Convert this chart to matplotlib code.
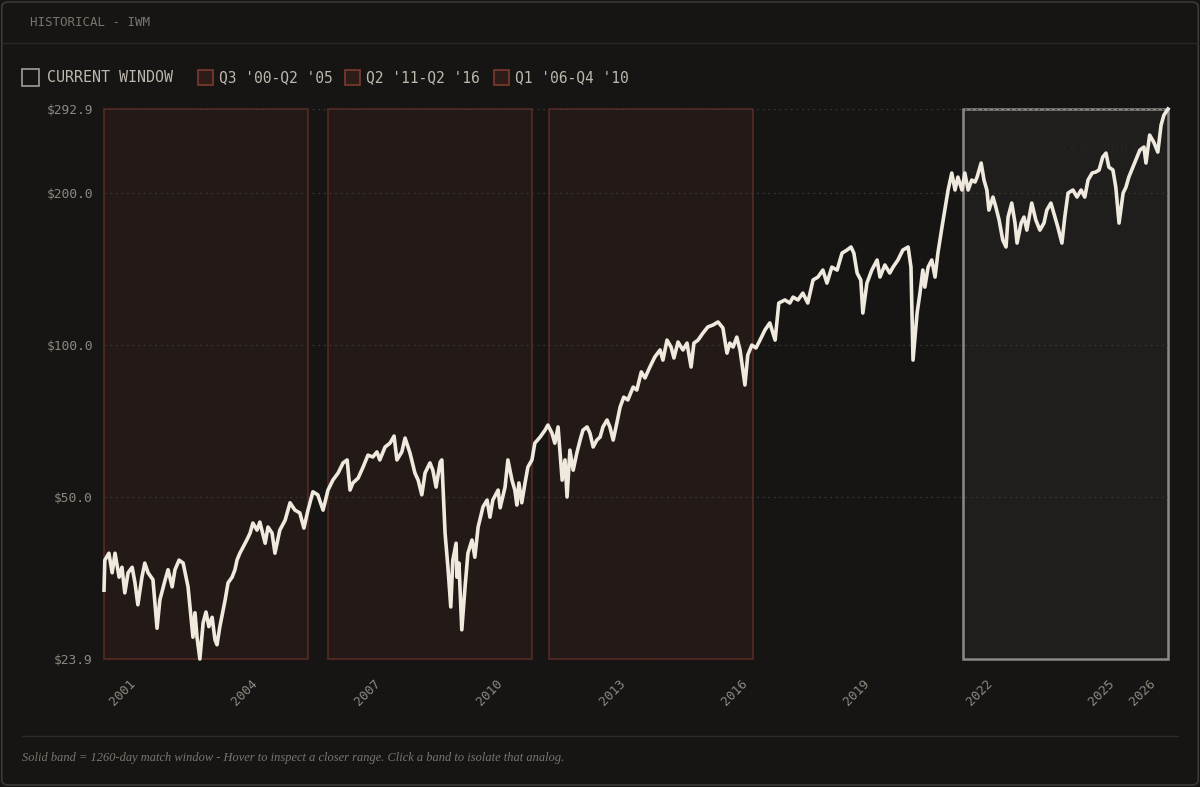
import matplotlib
matplotlib.use("Agg")
import matplotlib.pyplot as plt
from matplotlib.patches import Rectangle, FancyBboxPatch
from matplotlib.lines import Line2D
from matplotlib.ticker import NullLocator

# ---- data (decimal year, price) ----
dates = [
    2000.39, 2000.41, 2000.51, 2000.59, 2000.66, 2000.76, 2000.83, 2000.90, 2000.98, 2001.08,
    2001.15, 2001.22, 2001.32, 2001.39, 2001.47, 2001.59, 2001.69, 2001.76, 2001.89, 2001.96,
    2002.06, 2002.13, 2002.23, 2002.33, 2002.45, 2002.57, 2002.62, 2002.67, 2002.74, 2002.82,
    2002.89, 2002.96, 2003.04, 2003.11, 2003.16, 2003.23, 2003.36, 2003.43, 2003.53, 2003.60,
    2003.65, 2003.72, 2003.80, 2003.89, 2003.97, 2004.04, 2004.14, 2004.21, 2004.34, 2004.41,
    2004.51, 2004.58, 2004.70, 2004.83, 2004.95, 2005.07, 2005.19, 2005.29, 2005.39, 2005.51,
    2005.63, 2005.76, 2005.88, 2006.00, 2006.13, 2006.25, 2006.35, 2006.42, 2006.49, 2006.62,
    2006.74, 2006.86, 2006.98, 2007.08, 2007.15, 2007.28, 2007.40, 2007.50, 2007.57, 2007.69,
    2007.77, 2007.89, 2008.01, 2008.09, 2008.18, 2008.26, 2008.38, 2008.45, 2008.53, 2008.63,
    2008.67, 2008.75, 2008.82, 2008.89, 2008.94, 2009.02, 2009.04, 2009.09, 2009.16, 2009.24,
    2009.31, 2009.41, 2009.48, 2009.56, 2009.68, 2009.78, 2009.85, 2009.92, 2010.05, 2010.10,
    2010.22, 2010.29, 2010.39, 2010.46, 2010.51, 2010.56, 2010.63, 2010.71, 2010.78, 2010.88,
    2010.95, 2011.08, 2011.20, 2011.27, 2011.37, 2011.44, 2011.52, 2011.62, 2011.69, 2011.74,
    2011.81, 2011.89, 2011.98, 2012.06, 2012.13, 2012.23, 2012.30, 2012.38, 2012.47, 2012.55,
    2012.62, 2012.72, 2012.79, 2012.87, 2012.96, 2013.04, 2013.13, 2013.23, 2013.36, 2013.45,
    2013.56, 2013.65, 2013.77, 2013.89, 2014.02, 2014.09, 2014.19, 2014.29, 2014.36, 2014.46,
    2014.58, 2014.68, 2014.78, 2014.85, 2014.95, 2015.07, 2015.19, 2015.32, 2015.44, 2015.56,
    2015.66, 2015.73, 2015.81, 2015.90, 2015.98, 2016.05, 2016.10, 2016.17, 2016.27, 2016.37,
    2016.47, 2016.59, 2016.71, 2016.84, 2016.93, 2017.08, 2017.20, 2017.28, 2017.40, 2017.52,
    2017.64, 2017.77, 2017.89, 2018.01, 2018.11, 2018.23, 2018.36, 2018.48, 2018.60, 2018.70,
    2018.77, 2018.85, 2018.94, 2018.99, 2019.09, 2019.21, 2019.34, 2019.41, 2019.53, 2019.65,
    2019.73, 2019.85, 2019.97, 2020.10, 2020.17, 2020.22, 2020.32, 2020.39, 2020.46, 2020.51,
    2020.59, 2020.68, 2020.76, 2020.83, 2020.93, 2021.00, 2021.08, 2021.17, 2021.25, 2021.32,
    2021.42, 2021.49, 2021.57, 2021.66, 2021.74, 2021.79, 2021.89, 2021.96, 2022.03, 2022.08,
    2022.18, 2022.25, 2022.33, 2022.42, 2022.50, 2022.55, 2022.64, 2022.72, 2022.77, 2022.87,
    2022.94, 2023.01, 2023.13, 2023.23, 2023.33, 2023.43, 2023.50, 2023.60, 2023.70, 2023.77,
    2023.87, 2023.94, 2024.02, 2024.14, 2024.24, 2024.34, 2024.43, 2024.51, 2024.61, 2024.70,
    2024.78, 2024.87, 2024.95, 2025.02, 2025.12, 2025.19, 2025.27, 2025.37, 2025.44, 2025.51,
    2025.61, 2025.71, 2025.78, 2025.88, 2025.93, 2026.02, 2026.12, 2026.22, 2026.30, 2026.37,
    2026.47,
]
prices = [
    32.7, 37.5, 38.7, 35.4, 38.7, 34.7, 36.3, 32.3, 35.4, 36.3,
    33.8, 30.6, 34.7, 37.0, 35.4, 34.3, 27.5, 31.3, 34.3, 35.9,
    33.2, 35.9, 37.5, 37.0, 33.2, 26.4, 29.5, 26.4, 23.9, 28.2,
    29.6, 27.7, 28.9, 26.1, 25.5, 27.7, 31.3, 33.8, 34.7, 35.9,
    37.5, 38.7, 39.8, 41.1, 42.4, 44.4, 43.0, 44.6, 40.5, 43.6,
    42.4, 38.7, 43.0, 45.0, 48.7, 47.1, 46.5, 43.4, 47.1, 51.2,
    50.5, 47.1, 51.6, 54.0, 55.8, 58.4, 59.2, 51.6, 53.3, 54.5,
    57.3, 60.5, 60.0, 61.4, 59.2, 62.8, 63.9, 66.0, 59.2, 61.4,
    65.4, 61.1, 55.8, 54.0, 50.5, 55.8, 58.4, 56.5, 52.3, 58.6,
    59.2, 42.4, 36.3, 30.3, 37.5, 40.5, 34.7, 37.0, 27.3, 33.2,
    38.7, 41.1, 38.0, 43.6, 47.8, 49.3, 45.6, 49.3, 51.6, 47.6,
    52.3, 59.2, 54.0, 51.6, 48.2, 53.3, 48.7, 53.3, 57.3, 59.2,
    63.9, 65.7, 67.8, 69.4, 66.9, 63.9, 68.8, 54.0, 59.2, 50.0,
    61.9, 56.5, 61.1, 64.8, 67.8, 68.8, 66.9, 62.8, 64.8, 65.7,
    68.8, 71.0, 68.8, 64.8, 70.0, 75.3, 78.8, 77.8, 82.5, 81.4,
    88.4, 86.0, 90.4, 94.6, 97.7, 93.3, 102.2, 99.0, 94.2, 101.3,
    97.7, 100.8, 90.4, 100.8, 102.2, 105.5, 108.5, 109.5, 111.0, 108.0,
    96.3, 100.8, 99.0, 103.6, 97.7, 89.2, 83.3, 95.5, 99.9, 98.6,
    102.2, 107.0, 110.5, 102.2, 121.0, 122.7, 121.0, 124.3, 122.7, 126.6,
    121.0, 134.4, 136.2, 140.6, 132.5, 142.5, 140.6, 151.9, 154.0, 156.2,
    151.9, 138.7, 134.4, 115.6, 132.5, 140.6, 147.2, 136.2, 143.9, 138.7,
    142.5, 147.2, 154.0, 156.2, 142.5, 93.3, 115.6, 126.6, 140.6, 130.1,
    142.5, 147.2, 136.2, 151.9, 171.0, 184.8, 202.5, 218.8, 202.5, 214.8,
    202.5, 218.8, 202.5, 211.9, 210.0, 214.8, 229.0, 211.9, 202.5, 184.8,
    196.1, 187.4, 176.6, 161.2, 156.2, 179.0, 190.8, 174.2, 159.0, 174.2,
    179.0, 168.7, 190.8, 176.6, 168.7, 174.2, 184.8, 190.8, 179.0, 171.0,
    159.0, 179.0, 199.7, 202.5, 196.1, 202.5, 196.1, 211.9, 218.8, 219.8,
    221.8, 235.3, 239.6, 224.8, 221.8, 205.2, 174.2, 199.7, 205.2, 214.8,
    224.8, 235.3, 242.9, 246.3, 229.0, 260.1, 251.9, 240.7, 272.2, 284.9,
    292.9,
]

# analog windows (start, end) in decimal years, drawn left to right
analog_windows = [(2000.39, 2005.39), (2005.88, 2010.88), (2011.30, 2016.30)]
current_window = (2021.44, 2026.47)

legend_labels = ["CURRENT WINDOW", "Q3 '00-Q2 '05", "Q2 '11-Q2 '16", "Q1 '06-Q4 '10"]

y_ticks = [23.9, 50.0, 100.0, 200.0, 292.9]
y_tick_labels = ["$23.9", "$50.0", "$100.0", "$200.0", "$292.9"]
x_ticks = [2001, 2004, 2007, 2010, 2013, 2016, 2019, 2022, 2025, 2026]

title = "HISTORICAL - IWM"
footer = ("Solid band = 1260-day match window - Hover to inspect a closer range. "
          "Click a band to isolate that analog.")

# ---- style ----
BG = "#161514"
BAND_FACE = "#231a17"
BAND_EDGE = "#5c2b25"
CUR_FACE = "#1f1e1d"
CUR_EDGE = "#8c8a86"
LINE = "#efe9de"
MUTED = "#8e887f"
MONO = "DejaVu Sans Mono"
W, H = 1200, 787

plt.rcParams["font.family"] = [MONO]


def fx(x):
    return x / W


def fy(y):
    return 1 - y / H


fig = plt.figure(figsize=(W / 100, H / 100), dpi=100, facecolor=BG)

# card outline + header
fig.patches.append(FancyBboxPatch((0.0015, 0.0025), 0.997, 0.995,
                                  boxstyle="round,pad=0,rounding_size=0.006",
                                  transform=fig.transFigure, facecolor=BG,
                                  edgecolor="#3b3936", lw=1.2, zorder=-5))
fig.add_artist(Line2D([0.002, 0.998], [fy(43), fy(43)], color="#2a2826", lw=1))
fig.text(fx(30), fy(22), title, size=9, color="#7a746c", va="center")

# legend row
fig.patches.append(Rectangle((fx(22), fy(86)), fx(17), 17 / H, transform=fig.transFigure,
                             facecolor="none", edgecolor="#a09d98", lw=1.2))
fig.text(fx(47), fy(77.5), legend_labels[0], size=10.8, color="#bdb7ad", va="center")
for sx, tx, lab in zip([198, 345, 494], [219, 366, 515], legend_labels[1:]):
    fig.patches.append(Rectangle((fx(sx), fy(85)), fx(15), 15 / H, transform=fig.transFigure,
                                 facecolor="#2c1d19", edgecolor="#7d3a2e", lw=1.2))
    fig.text(fx(tx), fy(77.5), lab, size=10.5, color="#bdb7ad", va="center")

# footer
fig.add_artist(Line2D([fx(22), fx(1178)], [fy(736), fy(736)], color="#2c2a27", lw=1))
fig.text(fx(22), fy(758), footer, family="Liberation Serif", style="italic",
         size=8.9, color="#7b756d", va="center")

# ---- chart ----
ax = fig.add_axes([fx(104), 128 / H, 1064 / W, 550 / H])
ax.set_facecolor(BG)
ax.set_yscale("log")
ax.set_xlim(dates[0], dates[-1])
ax.set_ylim(y_ticks[0], y_ticks[-1])

for s, e in analog_windows:
    ax.axvspan(s, e, facecolor=BAND_FACE, edgecolor=BAND_EDGE, lw=1.1, zorder=1, clip_on=False)
ax.axvspan(*current_window, facecolor=CUR_FACE, edgecolor=CUR_EDGE, lw=1.8, zorder=1.2,
           clip_on=False)

for v in y_ticks:
    ax.axhline(v, color="#3a3632", lw=0.9, ls=(0, (1.5, 3)), zorder=1.5)

ax.text(fx(1063), fy(147), "orionmarkets", transform=fig.transFigure, family="Liberation Serif",
        style="italic", size=13, color="#242220", va="center", zorder=2, clip_on=False)

ax.plot(dates, prices, color=LINE, lw=2.6, zorder=3, solid_joinstyle="round", clip_on=False)

ax.set_yticks(y_ticks)
ax.set_yticklabels(y_tick_labels)
ax.yaxis.set_minor_locator(NullLocator())
ax.set_xticks(x_ticks)
ax.set_xticklabels([str(y) for y in x_ticks], rotation=45, ha="right", va="top",
                   rotation_mode="anchor")
ax.tick_params(axis="y", length=0, pad=8, labelsize=9.3, labelcolor=MUTED)
ax.tick_params(axis="x", length=0, pad=13, labelsize=9.3, labelcolor=MUTED)
for sp in ax.spines.values():
    sp.set_visible(False)

fig.savefig("out.png", dpi=100, facecolor=BG)
